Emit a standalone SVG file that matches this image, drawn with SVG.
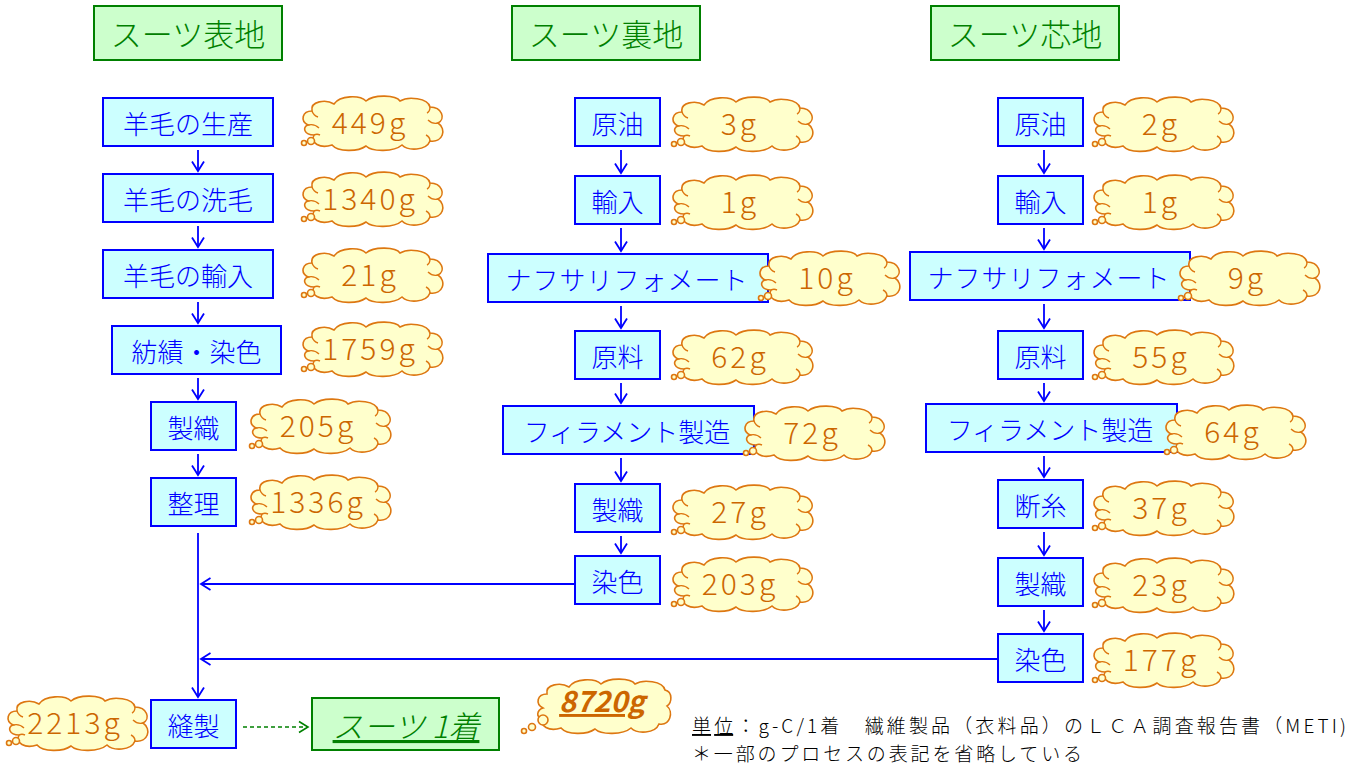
<svg xmlns="http://www.w3.org/2000/svg" xmlns:xlink="http://www.w3.org/1999/xlink" width="1356" height="766" viewBox="0 0 1356 766">
<style>
.hd{fill:#ccffcc;stroke:#008000;stroke-width:2}
.hdt{fill:#008000;font-family:"Noto Sans CJK JP","Noto Sans CJK SC",sans-serif;font-size:31px;font-weight:300;text-anchor:middle}
.bx{fill:#ccffff;stroke:#0000ff;stroke-width:2}
.bt{fill:#0000ff;font-family:"Noto Sans CJK JP","Noto Sans CJK SC",sans-serif;font-size:26px;font-weight:300;text-anchor:middle}
.ct{fill:#cc6600;font-family:"Noto Sans CJK JP","Noto Sans CJK SC",sans-serif;font-size:30px;font-weight:300;text-anchor:middle;letter-spacing:3px}
.cl{fill:#ffffcc;stroke:#dd7711;stroke-width:1.6}
.cr{fill:none;stroke:#dd7711;stroke-width:1.4}
.ln{fill:none;stroke:#0000ff;stroke-width:1.8}
.nt{fill:#000;font-family:"Noto Sans CJK JP","Noto Sans CJK SC",sans-serif;font-size:19px;font-weight:300}
</style>
<defs>
<marker id="ah" markerWidth="14" markerHeight="14" refX="11" refY="7" orient="auto" markerUnits="userSpaceOnUse">
<path d="M1.5,1 L11,7 L1.5,13" fill="none" stroke="#0000ff" stroke-width="1.8"/>
</marker>
<marker id="ahg" markerWidth="14" markerHeight="14" refX="11" refY="7" orient="auto" markerUnits="userSpaceOnUse">
<path d="M2,1.5 L11,7 L2,12.5" fill="none" stroke="#008000" stroke-width="1.6"/>
</marker>
<g id="cloud">
<path class="cl" d="M8,30 C0,26 2,16 12,16 C10,6 26,4 34,9 C40,0 60,0 66,6 C74,-1 96,0 100,6 C108,1 128,3 130,12 C142,12 146,24 138,28 C147,34 143,48 130,46 C126,56 108,56 102,50 C94,57 72,57 66,51 C58,57 38,57 32,50 C20,54 10,48 14,40 C4,40 2,32 8,30 Z"/>
<path class="cr" d="M8,30 C12,29 16,30 19,33 M138,28 C134,29 131,28 128,25 M12,16 C13,19 15,21 18,22 M130,12 C130,15 129,17 127,18 M130,46 C130,43 128,41 126,40 M14,40 C16,39 18,39 20,40"/>
<circle class="cl" cx="4" cy="48" r="2.5"/>
<circle class="cl" cx="11" cy="46" r="3.5"/>
</g>
</defs>

<g id="connectors">
<line class="ln" x1="198" y1="150" x2="198" y2="171" marker-end="url(#ah)"/>
<line class="ln" x1="198" y1="226" x2="198" y2="247" marker-end="url(#ah)"/>
<line class="ln" x1="198" y1="302" x2="198" y2="323" marker-end="url(#ah)"/>
<line class="ln" x1="198" y1="378" x2="198" y2="399" marker-end="url(#ah)"/>
<line class="ln" x1="198" y1="454" x2="198" y2="475" marker-end="url(#ah)"/>
<line class="ln" x1="198" y1="533" x2="198" y2="697" marker-end="url(#ah)"/>
<line class="ln" x1="621" y1="150" x2="621" y2="173" marker-end="url(#ah)"/>
<line class="ln" x1="621" y1="228" x2="621" y2="251" marker-end="url(#ah)"/>
<line class="ln" x1="621" y1="306" x2="621" y2="328" marker-end="url(#ah)"/>
<line class="ln" x1="621" y1="383" x2="621" y2="403" marker-end="url(#ah)"/>
<line class="ln" x1="621" y1="458" x2="621" y2="481" marker-end="url(#ah)"/>
<line class="ln" x1="621" y1="536" x2="621" y2="553" marker-end="url(#ah)"/>
<line class="ln" x1="1044" y1="150" x2="1044" y2="173" marker-end="url(#ah)"/>
<line class="ln" x1="1044" y1="228" x2="1044" y2="249" marker-end="url(#ah)"/>
<line class="ln" x1="1044" y1="304" x2="1044" y2="328" marker-end="url(#ah)"/>
<line class="ln" x1="1044" y1="383" x2="1044" y2="401" marker-end="url(#ah)"/>
<line class="ln" x1="1044" y1="456" x2="1044" y2="477" marker-end="url(#ah)"/>
<line class="ln" x1="1044" y1="532" x2="1044" y2="555" marker-end="url(#ah)"/>
<line class="ln" x1="1044" y1="610" x2="1044" y2="631" marker-end="url(#ah)"/>
<line class="ln" x1="575" y1="584" x2="201" y2="584" marker-end="url(#ah)"/>
<line class="ln" x1="998" y1="659" x2="201" y2="659" marker-end="url(#ah)"/>
<line x1="243" y1="727" x2="308" y2="727" stroke="#008000" stroke-width="1.6" stroke-dasharray="4,3" marker-end="url(#ahg)"/>
</g>

<g id="h1"><rect class="hd" x="94" y="6" width="188" height="54"/><text class="hdt" x="188" y="46">スーツ表地</text></g>
<g id="h2"><rect class="hd" x="512" y="6" width="188" height="54"/><text class="hdt" x="606" y="46">スーツ裏地</text></g>
<g id="h3"><rect class="hd" x="931" y="6" width="188" height="54"/><text class="hdt" x="1025" y="46">スーツ芯地</text></g>

<g id="a1"><rect class="bx" x="103" y="98" width="170" height="48"/><text class="bt" x="188" y="134">羊毛の生産</text></g>
<g id="a2"><rect class="bx" x="103" y="174" width="170" height="48"/><text class="bt" x="188" y="210">羊毛の洗毛</text></g>
<g id="a3"><rect class="bx" x="103" y="250" width="170" height="48"/><text class="bt" x="188" y="286">羊毛の輸入</text></g>
<g id="a4"><rect class="bx" x="112" y="326" width="169" height="48"/><text class="bt" x="196.5" y="362">紡績・染色</text></g>
<g id="a5"><rect class="bx" x="151" y="402" width="85" height="48"/><text class="bt" x="193.5" y="438">製織</text></g>
<g id="a6"><rect class="bx" x="151" y="478" width="85" height="48"/><text class="bt" x="193.5" y="514">整理</text></g>
<g id="a7"><rect class="bx" x="151" y="700" width="85" height="48"/><text class="bt" x="193.5" y="736">縫製</text></g>

<g id="b1"><rect class="bx" x="575" y="98" width="85" height="48"/><text class="bt" x="617.5" y="134">原油</text></g>
<g id="b2"><rect class="bx" x="575" y="176" width="85" height="48"/><text class="bt" x="617.5" y="212">輸入</text></g>
<g id="b3"><rect class="bx" x="488" y="254" width="280" height="48"/><text class="bt" x="627" y="290" letter-spacing="1">ナフサリフォメート</text></g>
<g id="b4"><rect class="bx" x="575" y="331" width="85" height="48"/><text class="bt" x="617.5" y="367">原料</text></g>
<g id="b5"><rect class="bx" x="503" y="406" width="251" height="48"/><text class="bt" x="627" y="442">フィラメント製造</text></g>
<g id="b6"><rect class="bx" x="575" y="484" width="85" height="48"/><text class="bt" x="617.5" y="520">製織</text></g>
<g id="b7"><rect class="bx" x="575" y="556" width="85" height="48"/><text class="bt" x="617.5" y="592">染色</text></g>

<g id="c1"><rect class="bx" x="998" y="98" width="85" height="48"/><text class="bt" x="1040.5" y="134">原油</text></g>
<g id="c2"><rect class="bx" x="998" y="176" width="85" height="48"/><text class="bt" x="1040.5" y="212">輸入</text></g>
<g id="c3"><rect class="bx" x="910" y="252" width="280" height="48"/><text class="bt" x="1049" y="288" letter-spacing="1">ナフサリフォメート</text></g>
<g id="c4"><rect class="bx" x="998" y="331" width="85" height="48"/><text class="bt" x="1040.5" y="367">原料</text></g>
<g id="c5"><rect class="bx" x="926" y="404" width="251" height="48"/><text class="bt" x="1050" y="440">フィラメント製造</text></g>
<g id="c6"><rect class="bx" x="998" y="480" width="85" height="48"/><text class="bt" x="1040.5" y="516">断糸</text></g>
<g id="c7"><rect class="bx" x="998" y="558" width="85" height="48"/><text class="bt" x="1040.5" y="594">製織</text></g>
<g id="c8"><rect class="bx" x="998" y="634" width="85" height="48"/><text class="bt" x="1040.5" y="670">染色</text></g>

<g id="final"><rect class="hd" x="312" y="698" width="187" height="52"/><text x="406" y="738" fill="#008000" font-family="'Noto Sans CJK JP','Noto Sans CJK SC',sans-serif" font-size="31" font-weight="300" font-style="italic" text-anchor="middle" text-decoration="underline">スーツ 1着</text></g>

<g id="cl-a1"><use xlink:href="#cloud" x="300" y="95"/><text class="ct" x="370" y="134">449g</text></g>
<g id="cl-a2"><use xlink:href="#cloud" x="300" y="171"/><text class="ct" x="370" y="210">1340g</text></g>
<g id="cl-a3"><use xlink:href="#cloud" x="300" y="247"/><text class="ct" x="370" y="286">21g</text></g>
<g id="cl-a4"><use xlink:href="#cloud" x="300" y="321"/><text class="ct" x="370" y="360">1759g</text></g>
<g id="cl-a5"><use xlink:href="#cloud" x="248" y="398"/><text class="ct" x="318" y="437">205g</text></g>
<g id="cl-a6"><use xlink:href="#cloud" x="248" y="474"/><text class="ct" x="318" y="513">1336g</text></g>
<g id="cl-a7"><use xlink:href="#cloud" x="5" y="695"/><text class="ct" x="75" y="734">2213g</text></g>

<g id="cl-b1"><use xlink:href="#cloud" x="670" y="96"/><text class="ct" x="740" y="135">3g</text></g>
<g id="cl-b2"><use xlink:href="#cloud" x="670" y="174"/><text class="ct" x="740" y="213">1g</text></g>
<g id="cl-b3"><use xlink:href="#cloud" x="757" y="250"/><text class="ct" x="827" y="289">10g</text></g>
<g id="cl-b4"><use xlink:href="#cloud" x="670" y="329"/><text class="ct" x="740" y="368">62g</text></g>
<g id="cl-b5"><use xlink:href="#cloud" x="742" y="405"/><text class="ct" x="812" y="444">72g</text></g>
<g id="cl-b6"><use xlink:href="#cloud" x="670" y="484"/><text class="ct" x="740" y="523">27g</text></g>
<g id="cl-b7"><use xlink:href="#cloud" x="670" y="556"/><text class="ct" x="740" y="595">203g</text></g>

<g id="cl-c1"><use xlink:href="#cloud" x="1091" y="96"/><text class="ct" x="1161" y="135">2g</text></g>
<g id="cl-c2"><use xlink:href="#cloud" x="1091" y="174"/><text class="ct" x="1161" y="213">1g</text></g>
<g id="cl-c3"><use xlink:href="#cloud" x="1177" y="250"/><text class="ct" x="1247" y="289">9g</text></g>
<g id="cl-c4"><use xlink:href="#cloud" x="1091" y="329"/><text class="ct" x="1161" y="368">55g</text></g>
<g id="cl-c5"><use xlink:href="#cloud" x="1163" y="404"/><text class="ct" x="1233" y="443">64g</text></g>
<g id="cl-c6"><use xlink:href="#cloud" x="1091" y="480"/><text class="ct" x="1161" y="519">37g</text></g>
<g id="cl-c7"><use xlink:href="#cloud" x="1091" y="557"/><text class="ct" x="1161" y="596">23g</text></g>
<g id="cl-c8"><use xlink:href="#cloud" x="1091" y="632"/><text class="ct" x="1161" y="671">177g</text></g>

<g id="cl-total">
<path class="cl" d="M543,708 C535,704 537,694 547,694 C545,684 561,682 569,687 C575,678 595,678 601,684 C609,677 631,678 635,684 C643,679 663,681 665,690 C673,692 672,703 667,706 C674,712 670,726 659,724 C655,734 637,734 631,728 C623,735 601,735 595,729 C587,735 567,735 561,728 C549,732 539,726 543,718 C535,718 537,710 543,708 Z"/>
<circle class="cl" cx="524" cy="731" r="2.5"/>
<circle class="cl" cx="532" cy="727" r="3.5"/>
<circle class="cl" cx="543" cy="720" r="5"/>
<text x="602" y="712" fill="#cc6600" font-family="'Noto Sans CJK JP','Noto Sans CJK SC',sans-serif" font-size="29" font-style="italic" font-weight="bold" text-anchor="middle" text-decoration="underline">8720g</text>
</g>

<g id="notes">
<text class="nt" x="692" y="733" textLength="654" lengthAdjust="spacing"><tspan text-decoration="underline">単位</tspan>：g-C/1着　繊維製品（衣料品）のＬＣＡ調査報告書（METI)</text>
<text class="nt" x="692" y="761" textLength="390" lengthAdjust="spacing">＊一部のプロセスの表記を省略している</text>
</g>
</svg>
